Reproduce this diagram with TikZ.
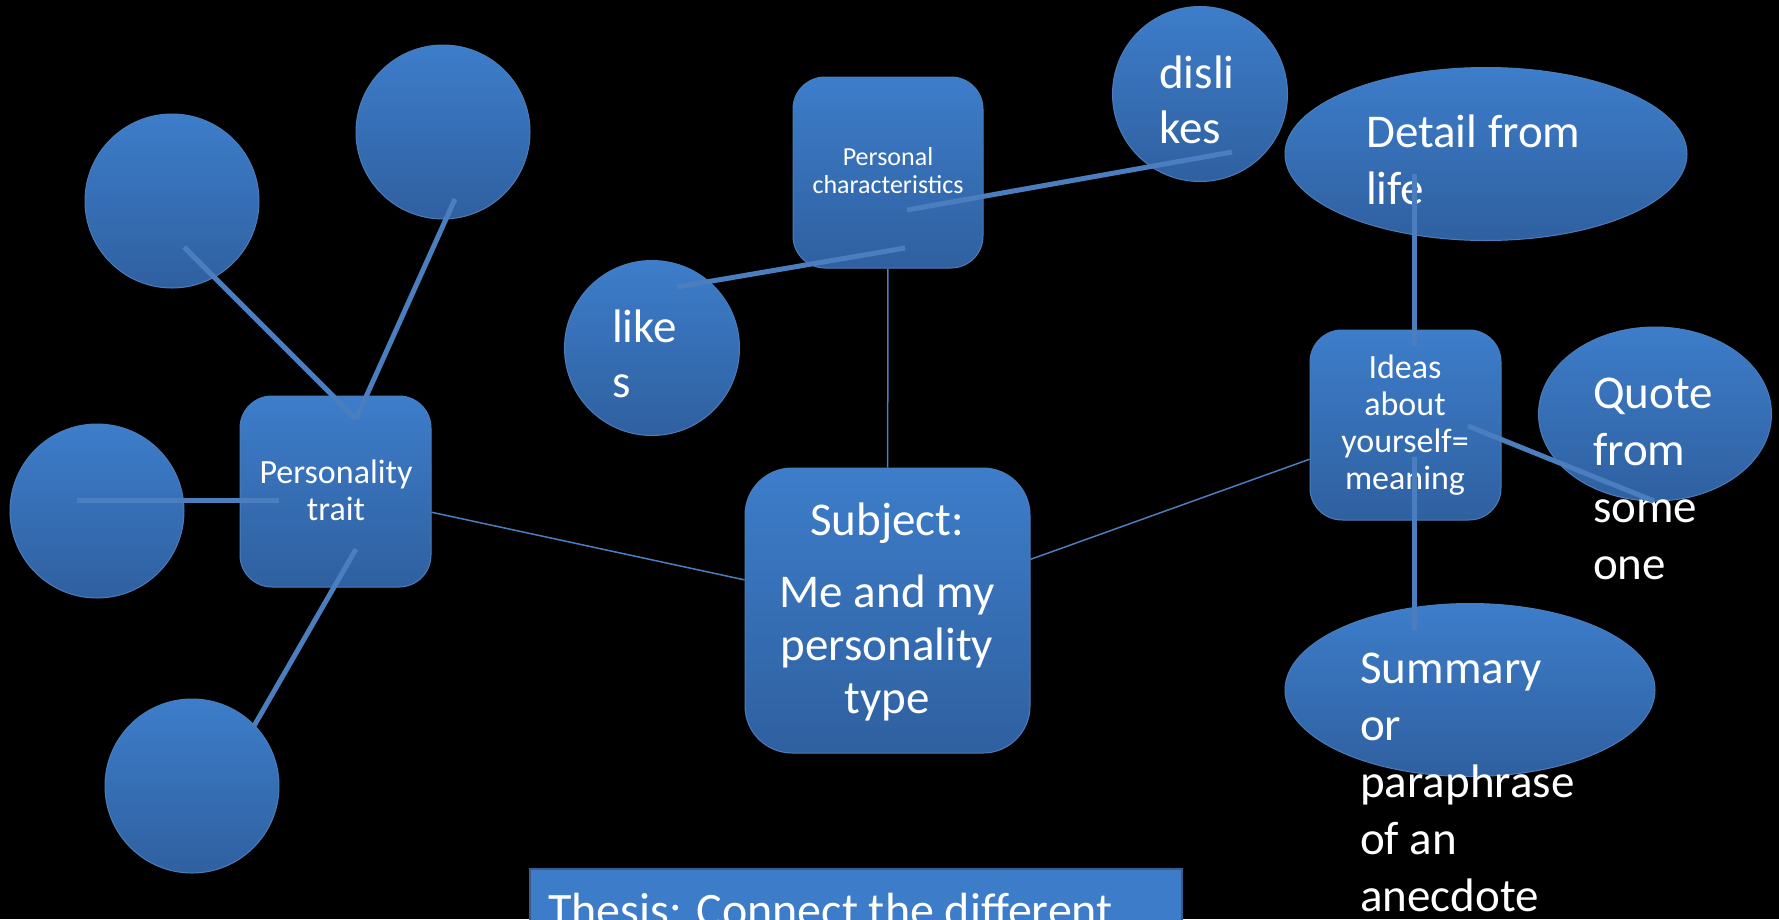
\documentclass[tikz,border=0pt]{standalone}
\usepackage{fontspec}
\setmainfont{Carlito}
\usetikzlibrary{shapes.geometric}
\definecolor{topblue}{RGB}{61,125,202}
\definecolor{botblue}{RGB}{47,96,160}
\definecolor{edgeblue}{RGB}{74,126,187}
\definecolor{linkblue}{RGB}{74,126,190}
\definecolor{thesisblue}{RGB}{61,124,201}
\definecolor{thesisedge}{RGB}{56,93,138}
\newcommand{\cenlines}[2]{\vtop{\baselineskip=#1\lineskiplimit=-100pt\lineskip=0pt\halign{\hfil##\hfil\cr#2\crcr}}}
\newcommand{\leftlines}[2]{\vtop{\baselineskip=#1\lineskiplimit=-100pt\lineskip=0pt\halign{##\hfil\cr#2\crcr}}}
\tikzset{
  blob/.style={ellipse, draw=edgeblue, line width=1pt, top color=topblue, bottom color=botblue, inner sep=0pt},
  rbox/.style={rectangle, rounded corners=32pt, draw=edgeblue, line width=1pt, top color=topblue, bottom color=botblue, inner sep=0pt},
  txt/.style={text=white, inner sep=0pt},
  lnk/.style={draw=linkblue, line width=5pt},
  thinlnk/.style={draw=linkblue, line width=1.5pt},
  big/.style={font=\fontsize{47}{57}\selectfont},
  mid/.style={font=\fontsize{34}{37}\selectfont}
}
\begin{document}
\begin{tikzpicture}[x=1pt,y=-1pt]
\useasboundingbox (0,0) rectangle (1779,919);
\clip (0,0) rectangle (1779,919);
\fill[black] (0,0) rectangle (1779,919);

% left cluster
\node[blob, minimum width=174pt, minimum height=174pt] (tl1) at (172,201) {};
\node[blob, minimum width=174pt, minimum height=174pt] (tl2) at (443,132) {};
\node[blob, minimum width=174pt, minimum height=174pt] (lft) at (97,511) {};
\node[blob, minimum width=174pt, minimum height=174pt] (bl) at (192,786) {};
\node[rbox, minimum width=191pt, minimum height=191pt] (pt) at (335.5,491.5) {};
\node[txt, mid, anchor=base] (ptt) at (336,483) {\cenlines{37pt}{Personality\cr trait}};

% personal characteristics cluster
\node[rbox, minimum width=190pt, minimum height=191pt] (pc) at (888,172.5) {};
\node[txt, anchor=base, font=\fontsize{26}{28}\selectfont] (pct) at (888,165) {\cenlines{28pt}{Personal\cr characteristics}};
\node[blob, minimum width=175pt, minimum height=175pt] (dis) at (1200,94) {};
\node[txt, big, anchor=base west] (dist) at (1159,88) {\leftlines{55pt}{disli\cr kes}};
\node[blob, minimum width=175pt, minimum height=175pt] (lik) at (652,348) {};
\node[txt, big, anchor=base west] (likt) at (612,342) {\leftlines{55pt}{like\cr s}};

% subject
\node[rbox, rounded corners=47pt, minimum width=285pt, minimum height=285pt] (subj) at (887.5,610.5) {};
\node[txt, anchor=base, font=\fontsize{47}{53}\selectfont] (subjt) at (887,535) {\cenlines{53pt}{Subject:\cr\noalign{\vskip19pt}Me and my\cr personality\cr type}};

% right cluster
\node[blob, minimum width=402pt, minimum height=173pt] (det) at (1486,154) {};
\node[txt, big, anchor=base west] (dett) at (1366,147) {\leftlines{57pt}{Detail from\cr life}};
\node[rbox, minimum width=191pt, minimum height=190pt] (ide) at (1405.5,425) {};
\node[txt, mid, anchor=base] (idet) at (1405,378) {\cenlines{37.3pt}{Ideas\cr about\cr yourself=\cr meaning}};
\node[blob, minimum width=233pt, minimum height=174pt] (quo) at (1655,414) {};
\node[txt, big, anchor=base west] (quot) at (1593,408) {\leftlines{57pt}{Quote\cr from\cr some\cr one}};
\node[blob, minimum width=370pt, minimum height=173pt] (sum) at (1470,690) {};
\node[txt, big, anchor=base west] (sumt) at (1360,683) {\leftlines{57pt}{Summary\cr or\cr paraphrase\cr of an\cr anecdote}};

% thesis
\node[rectangle, draw=thesisedge, line width=1.5pt, fill=thesisblue, minimum width=652pt, minimum height=150pt, anchor=north west, inner sep=0pt] (thes) at (529,868) {};
\node[txt, anchor=base west, font=\fontsize{48}{58}\selectfont] (thest) at (548,926) {Thesis: Connect the different};

% thin connectors
\draw[thinlnk] (pt) -- (subj);
\draw[thinlnk] (pc) -- (subj);
\draw[thinlnk] (subj) -- (ide);

% thick connectors
\coordinate (a1) at (184,247); \coordinate (ab) at (356,419);
\coordinate (b1) at (455,199);
\coordinate (c1) at (77,500); \coordinate (c2) at (279,500);
\coordinate (d1) at (356,549); \coordinate (d2) at (254,726);
\coordinate (e1) at (907,210); \coordinate (e2) at (1232,152);
\coordinate (f1) at (677,287); \coordinate (f2) at (905,248);
\coordinate (g1) at (1414,174); \coordinate (g2) at (1414,346);
\coordinate (h1) at (1414,457); \coordinate (h2) at (1414,630);
\coordinate (q1) at (1468,426); \coordinate (q2) at (1654,501);
\draw[lnk] (a1) -- (ab);
\draw[lnk] (b1) -- (ab);
\draw[lnk] (c1) -- (c2);
\draw[lnk] (d1) -- (d2);
\draw[lnk] (e1) -- (e2);
\draw[lnk] (f1) -- (f2);
\draw[lnk] (g1) -- (g2);
\draw[lnk] (h1) -- (h2);
\draw[lnk] (q1) -- (q2);
\end{tikzpicture}
\end{document}
